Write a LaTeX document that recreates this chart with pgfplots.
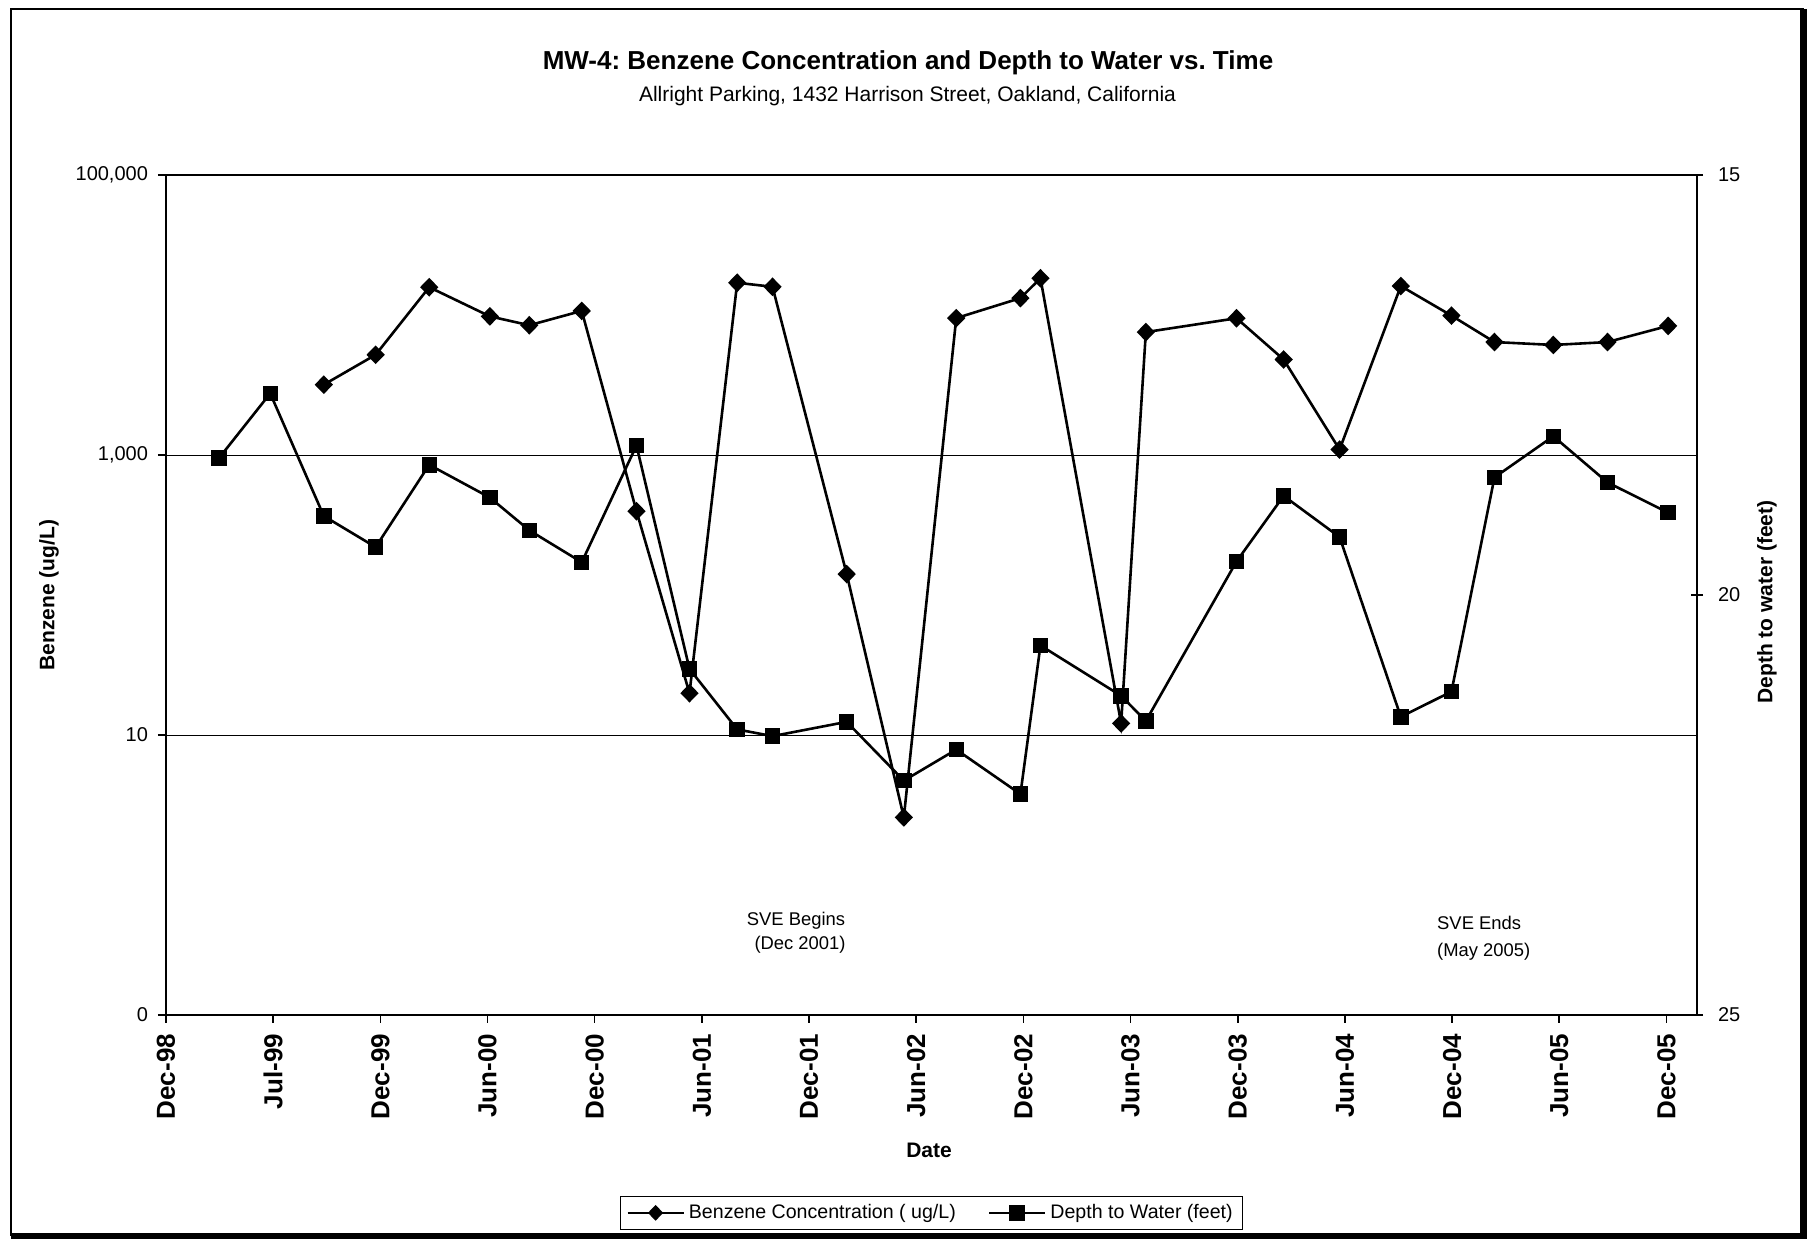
\documentclass[border=0pt]{standalone}
\usepackage{fontspec}
\setmainfont{Liberation Sans}
\usepackage{pgfplots}
\usepackage{pgfplotstable}
\pgfplotsset{compat=1.18}
\frenchspacing

% Sampling dates in days after 31 Dec 1998
\pgfplotstableread{
day benzene
268 3180
356 5200
447 15800
550 9780
617 8450
706 10700
799 397
889 19.9
970 17000
1030 15900
1156 141
1253 2.58
1342 9500
1451 13200
1485 18300
1622 12.1
1664 7550
1818 9480
1898 4810
1993 1094
2097 16100
2183 9900
2256 6410
2356 6110
2448 6410
2551 8360
}\benzenetable

\pgfplotstableread{
day depth
90 18.37
177 17.60
268 19.06
356 19.43
447 18.45
550 18.84
617 19.23
706 19.61
799 18.22
889 20.88
970 21.60
1030 21.68
1156 21.51
1253 22.21
1342 21.84
1451 22.37
1485 20.60
1622 21.20
1664 21.50
1818 19.60
1898 18.82
1993 19.31
2097 21.45
2183 21.15
2256 18.60
2356 18.11
2448 18.66
2551 19.02
}\depthtable

\pgfplotsset{
  benzene/.style={black, line width=1.3pt, mark=diamond*, mark size=3.75pt,
    mark options={solid, xscale=1.3}},
  depthw/.style={black, line width=1.3pt, mark=square*, mark size=3.2pt,
    mark options={solid}},
  common/.style={at={(83pt,112pt)}, anchor=south west, scale only axis,
    width=765.5pt, height=420pt, xmin=0, xmax=2600,
    axis line style={line width=1pt}, tick style={black, line width=0.8pt}},
}

\begin{document}
\begin{tikzpicture}
\useasboundingbox (0,0) rectangle (904pt,619.5pt);

% chart frame with a heavier right and bottom edge
\draw[line width=0.6pt] (5.5pt,1.5pt) -- (5.5pt,615pt) -- (901.75pt,615pt);
\draw[line width=3.5pt] (901.75pt,615pt) -- (901.75pt,0pt);
\draw[line width=3pt] (5.5pt,1.5pt) -- (903.5pt,1.5pt);

% left axis: benzene, log scale
\begin{axis}[common,
  ymode=log, ymin=0.1, ymax=100000,
  ytick={0.1,10,1000,100000}, yticklabels={0,10,{1,000},{100,000}},
  yminorticks=false,
  ymajorgrids, grid style={black, line width=0.5pt},
  xtick={0,182,364,546,728,910,1092,1274,1456,1638,1820,2002,2184,2366,2548},
  xticklabels={Dec-98,Jul-99,Dec-99,Jun-00,Dec-00,Jun-01,Dec-01,Jun-02,Dec-02,Jun-03,Dec-03,Jun-04,Dec-04,Jun-05,Dec-05},
  xtick pos=left, ytick pos=left,
  tick align=outside, major tick length=4pt,
  yticklabel style={font=\fontsize{10}{12}\selectfont},
  xticklabel style={font=\fontsize{13}{15}\selectfont\bfseries, rotate=90, anchor=east},
  xticklabel shift=2pt, yticklabel shift=1.5pt,
]
\addplot[benzene] table[x=day, y=benzene] {\benzenetable};
\end{axis}

% right axis: depth to water, reversed
\begin{axis}[common,
  axis x line=none, axis y line*=right,
  ymin=15, ymax=25, y dir=reverse,
  ytick={15,20,25}, yticklabels={15,20,25},
  tick align=center, major tick length=6pt,
  yticklabel style={font=\fontsize{10}{12}\selectfont},
  yticklabel shift=4pt,
  legend columns=2,
  legend image code/.code={\draw[#1, mark repeat=2, mark phase=2]
    plot coordinates {(0pt,0pt) (14pt,0pt) (28pt,0pt)};},
  legend style={at={(0.5,-0.256)}, anchor=south, draw=black, line width=0.6pt,
    font=\fontsize{9.8}{11}\selectfont, inner xsep=3pt, inner ysep=2pt,
    /tikz/every even column/.append style={column sep=14pt}},
]
\addlegendimage{benzene, mark size=3pt}
\addlegendentry{Benzene Concentration ( ug/L)}
\addplot[depthw] table[x=day, y=depth] {\depthtable};
\addlegendentry{Depth to Water (feet)}
\end{axis}

% titles and axis labels
\node[font=\fontsize{13}{15}\selectfont\bfseries, anchor=base] at (454pt,584.9pt)
  {MW-4: Benzene Concentration and Depth to Water vs. Time};
\node[font=\fontsize{10.5}{12}\selectfont, anchor=base] at (453.75pt,568.7pt)
  {Allright Parking, 1432 Harrison Street, Oakland, California};
\node[rotate=90, font=\fontsize{10.5}{12}\selectfont\bfseries] at (24.5pt,322pt)
  {Benzene (ug/L)};
\node[rotate=90, font=\fontsize{10.5}{12}\selectfont\bfseries] at (883.5pt,318.5pt)
  {Depth to water (feet)};
\node[font=\fontsize{10.5}{12}\selectfont\bfseries] at (464.5pt,44.5pt) {Date};

% SVE annotations
\node[font=\fontsize{9.2}{11}\selectfont, inner sep=0pt] at (398pt,159.2pt) {SVE Begins};
\node[font=\fontsize{9.2}{11}\selectfont, inner sep=0pt] at (400pt,147.2pt) {(Dec 2001)};
\node[font=\fontsize{9.2}{11}\selectfont, inner sep=0pt, anchor=west] at (718.4pt,157.8pt) {SVE Ends};
\node[font=\fontsize{9.2}{11}\selectfont, inner sep=0pt, anchor=west] at (718.4pt,143.5pt) {(May 2005)};
\end{tikzpicture}
\end{document}
